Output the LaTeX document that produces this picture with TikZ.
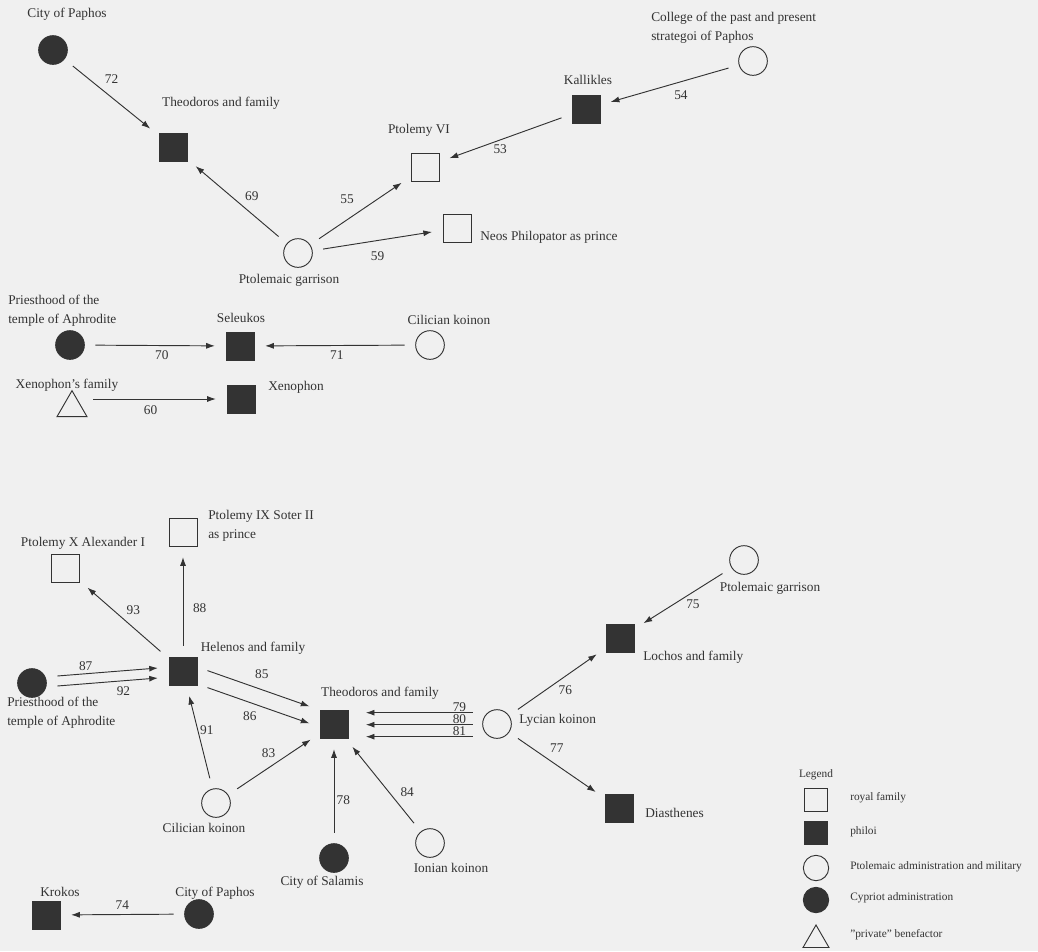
\documentclass[tikz,border=0pt]{standalone}
\usepackage{fontspec}
\setmainfont{Liberation Serif}
\usetikzlibrary{calc, shapes.geometric, arrows.meta}

\begin{document}
\begin{tikzpicture}[x=0.75pt, y=-0.75pt, >={Latex[length=6.5pt, width=4.5pt]}]

    \tikzstyle{sq}=[rectangle, draw=black!80, line width=0.7pt, minimum size=21pt, inner sep=0pt];
    \tikzstyle{fsq}=[sq, fill=black!80];
    \tikzstyle{circ}=[circle, draw=black!80, line width=0.7pt, minimum size=21.5pt, inner sep=0pt];
    \tikzstyle{fcirc}=[circ, fill=black!80];
    \tikzstyle{tri}=[regular polygon, regular polygon sides=3, draw=black!80, line width=0.7pt, minimum size=26pt, inner sep=0pt];
    \tikzstyle{txt}=[font=\fontsize{10}{14}\selectfont, text=black!80, inner sep=0pt];
    \tikzstyle{lgtxt}=[font=\fontsize{8.5}{10}\selectfont, text=black!80, inner sep=0pt];
    \tikzstyle{num}=[font=\fontsize{10}{12}\selectfont, text=black!80, inner sep=1pt];
    \tikzstyle{arr}=[->, draw=black!80, line width=0.7pt, shorten <=8pt, shorten >=8pt];

    \useasboundingbox (0,0) rectangle (1038,951);
    \fill[black!6] (0,0) rectangle (1038,951);

    \node (pap1) at (53,50) [fcirc] {};
    \node (theo1) at (173,147) [fsq] {};
    \node (ptol6) at (425,167) [sq] {};
    \node (neos) at (457,228) [sq] {};
    \node (gar1) at (298,253) [circ] {};
    \node (kall) at (586,109) [fsq] {};
    \node (coll) at (753,61) [circ] {};

    \node[txt] (pap1t) at ($(pap1)+(14,-36)$) {City of Paphos};
    \node[txt] (theo1t) at ($(theo1)+(48,-44)$) {Theodoros and family};
    \node[txt] (ptol6t) at ($(ptol6)+(-6,-37)$) {Ptolemy VI};
    \node[txt, anchor=west] (neost) at ($(neos)+(23,9)$) {Neos Philopator as prince};
    \node[txt] (gar1t) at ($(gar1)+(-9,27)$) {Ptolemaic garrison};
    \node[txt] (kallt) at ($(kall)+(2,-29)$) {Kallikles};
    \node[txt, anchor=west, align=left] (collt) at ($(coll)+(-102,-33)$) {College of the past and present\\strategoi of Paphos};

    \draw (pap1) edge[arr] node [num, yshift=14pt] {72} (theo1);
    \draw (gar1) edge[arr] node [num, xshift=11pt, yshift=4pt] {69} (theo1);
    \draw (gar1) edge[arr] node [num, xshift=-10pt, yshift=9pt] {55} (ptol6);
    \draw (gar1) edge[arr] node [num, yshift=-12pt] {59} (neos);
    \draw (coll) edge[arr] node [num, xshift=8.5pt, yshift=-7.5pt] {54} (kall);
    \draw (kall) edge[arr] node [num, xshift=-4pt, yshift=-8pt] {53} (ptol6);

    \node (pri1) at (70,345) [fcirc] {};
    \node (sel) at (240,346) [fsq] {};
    \node (cil1) at (430,345) [circ] {};
    \node (xfam) at (72,408) [tri] {};
    \node (xeno) at (241,399) [fsq] {};

    \node[txt, anchor=west, align=left] (pri1t) at ($(pri1)+(-62,-34)$) {Priesthood of the\\temple of Aphrodite};
    \node[txt] (selt) at ($(sel)+(1,-28)$) {Seleukos};
    \node[txt] (cil1t) at ($(cil1)+(19,-25)$) {Cilician koinon};
    \node[txt] (xfamt) at ($(xfam)+(-5,-23)$) {Xenophon's family};
    \node[txt, anchor=west] (xenot) at ($(xeno)+(27,-12)$) {Xenophon};

    \draw (pri1) edge[arr] node [num, xshift=5pt, yshift=-7pt] {70} (sel);
    \draw (cil1) edge[arr] node [num, xshift=1.5pt, yshift=-7pt] {71} (sel);
    \draw (xeno -| xfam.east) edge[arr] node [num, xshift=-3pt, yshift=-8pt] {60} (xeno);

    \node (ptol9) at (183,532) [sq] {};
    \node (ptolx) at (65,568) [sq] {};
    \node (hel) at (183,671) [fsq] {};
    \node (pri2) at (32,683) [fcirc] {};
    \node (theo2) at (334,724) [fsq] {};
    \node (lyc) at (497,724) [circ] {};
    \node (cil2) at (216,803) [circ] {};
    \node (sal) at (334,858) [fcirc] {};
    \node (ion) at (430,843) [circ] {};
    \node (krok) at (46,915) [fsq] {};
    \node (pap2) at (199,914) [fcirc] {};
    \node (gar2) at (744,560) [circ] {};
    \node (loch) at (620,638) [fsq] {};
    \node (dias) at (619,808) [fsq] {};

    \node[txt, anchor=west, align=left] (ptol9t) at ($(ptol9)+(25,-6)$) {Ptolemy IX Soter II\\as prince};
    \node[txt] (ptolxt) at ($(ptolx)+(18,-25)$) {Ptolemy X Alexander I};
    \node[txt] (helt) at ($(hel)+(70,-23)$) {Helenos and family};
    \node[txt, anchor=west, align=left] (pri2t) at ($(pri2)+(-25,30)$) {Priesthood of the\\temple of Aphrodite};
    \node[txt] (theo2t) at ($(theo2)+(46,-31)$) {Theodoros and family};
    \node[txt, anchor=west] (lyct) at ($(lyc)+(22,-4)$) {Lycian koinon};
    \node[txt] (cil2t) at ($(cil2)+(-12,25)$) {Cilician koinon};
    \node[txt] (salt) at ($(sal)+(-12,24)$) {City of Salamis};
    \node[txt] (iont) at ($(ion)+(21,25)$) {Ionian koinon};
    \node[txt] (krokt) at ($(krok)+(14,-23)$) {Krokos};
    \node[txt] (pap2t) at ($(pap2)+(16,-21)$) {City of Paphos};
    \node[txt] (gar2t) at ($(gar2)+(26,28)$) {Ptolemaic garrison};
    \node[txt, anchor=west] (locht) at ($(loch)+(23,19)$) {Lochos and family};
    \node[txt, anchor=west] (diast) at ($(dias)+(26,5)$) {Diasthenes};

    \draw (hel) edge[arr] node [num, xshift=7pt, yshift=7pt] {93} (ptolx);
    \draw (hel) edge[arr] node [num, xshift=12.5pt, yshift=-5pt] {88} (ptol9);
    \draw[transform canvas={yshift=3.75pt}] (pri2) edge[arr] node [num, pos=0.32, yshift=6pt] {87} (hel);
    \draw[transform canvas={yshift=-3.75pt}] (pri2) edge[arr] node [num, pos=0.63, yshift=-8pt] {92} (hel);
    \draw[transform canvas={yshift=6.75pt}] (hel) edge[arr] node [num, xshift=2.5pt, yshift=10.5pt] {85} (theo2);
    \draw[transform canvas={yshift=-6pt}] (hel) edge[arr] node [num, xshift=-6.5pt, yshift=-8pt] {86} (theo2);
    \draw[transform canvas={yshift=8.5pt}] (lyc) edge[arr, shorten <=7pt, shorten >=13pt] node [num, pos=0.17, above, inner sep=0.3pt] {79} (theo2);
    \draw[transform canvas={yshift=-0.5pt}] (lyc) edge[arr, shorten <=7pt, shorten >=13pt] node [num, pos=0.17, above, inner sep=0.3pt] {80} (theo2);
    \draw[transform canvas={yshift=-9.5pt}] (lyc) edge[arr, shorten <=7pt, shorten >=13pt] node [num, pos=0.17, above, inner sep=0.3pt] {81} (theo2);
    \draw (cil2) edge[arr] node [num, xshift=5.5pt, yshift=5pt] {91} (hel);
    \draw (cil2) edge[arr] node [num, xshift=-4pt, yshift=8pt] {83} (theo2);
    \draw (sal) edge[arr] node [num, xshift=7pt, yshift=-7pt] {78} (theo2);
    \draw (ion) edge[arr] node [num, xshift=18pt, yshift=-5pt] {84} (theo2);
    \draw (lyc) edge[arr] node [num, xshift=6pt, yshift=-6pt] {76} (loch);
    \draw (gar2) edge[arr] node [num, xshift=7.5pt, yshift=-4.5pt] {75} (loch);
    \draw (lyc) edge[arr] node [num, yshift=13pt] {77} (dias);
    \draw (pap2) edge[arr] node [num, yshift=7pt] {74} (krok);

    \node[lgtxt] (lgd) at (816,775) {Legend};
    \node (lg1) at (816,800) [sq, minimum size=17.5pt] {};
    \node (lg2) at (816,833) [fsq, minimum size=17.5pt] {};
    \node (lg3) at (816,868) [circ, minimum size=19pt] {};
    \node (lg4) at (816,900) [fcirc, minimum size=19pt] {};
    \node (lg5) at (816,940) [tri, minimum size=22.5pt] {};
    \node[lgtxt, anchor=west] (lg1t) at ($(lg1)+(34,-2)$) {royal family};
    \node[lgtxt, anchor=west] (lg2t) at ($(lg2)+(34,-1)$) {philoi};
    \node[lgtxt, anchor=west] (lg3t) at ($(lg3)+(34,-1)$) {Ptolemaic administration and military};
    \node[lgtxt, anchor=west] (lg4t) at ($(lg4)+(34,-2)$) {Cypriot administration};
    \node[lgtxt, anchor=west] (lg5t) at ($(lg5)+(34,-5)$) {"private" benefactor};
    \end{tikzpicture}
\end{document}
